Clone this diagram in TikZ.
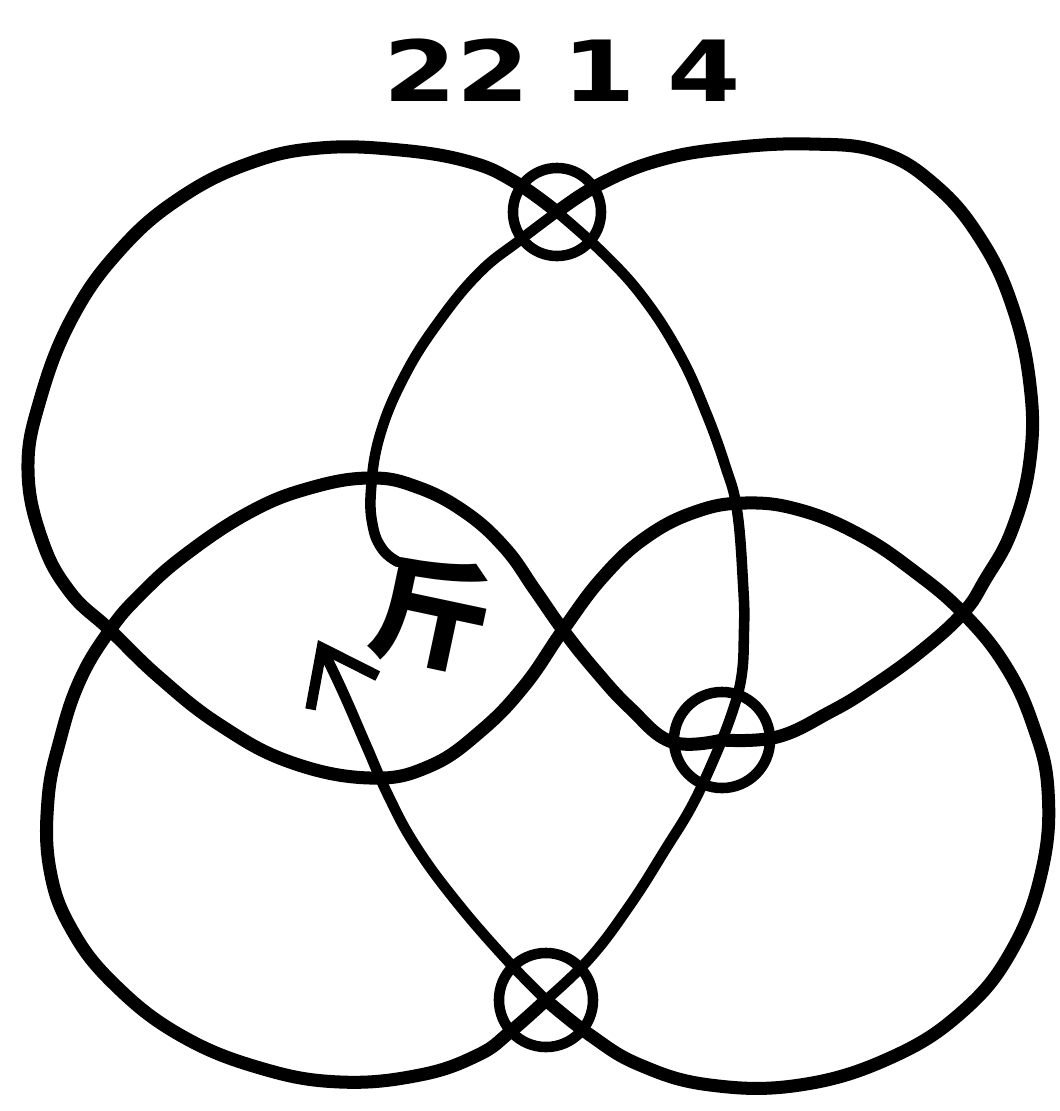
\documentclass[tikz,border=0pt]{standalone}
\usepackage{fontspec}
\newfontfamily\digitfont{DejaVu Sans}
\newfontfamily\cjk{Noto Sans CJK SC}
\usetikzlibrary{arrows.meta}

\begin{document}
\begin{tikzpicture}[x=0.01cm,y=-0.01cm,
  strand/.style={line width=3pt,line cap=round,line join=round},
  lobe/.style={line width=3.7pt,line cap=round,line join=round},
  xing/.style={circle,draw,line width=3pt,inner sep=0pt}]

%grid help
% \draw[gray, very thin] (0,0) grid[step=100] (1060,1111);

\useasboundingbox (0,0) rectangle (1060,1111);

%Number on top
\node[font=\digitfont\bfseries\fontsize{24}{24}\selectfont] (num) at (562,70) {\scalebox{1.25}[1]{22\hspace{0.3em}1\hspace{0.3em}4}};

%Crossing circles
\node[xing,minimum size=0.88cm] (top) at (557,212) {};
\node[xing,minimum size=0.96cm] (mid) at (722,740) {};
\node[xing,minimum size=0.94cm] (bot) at (546,1000) {};

%Character at the loose end
\node[font=\cjk\bfseries\fontsize{34}{34}\selectfont,rotate=-12] (kin) at (432,613) {斤};
\coordinate (end) at (398,562);

%Inner strand on the left
\draw[strand] plot[smooth,tension=0.7] coordinates {(end) (383,550) (373,527) (371,490) (380,435) (405,375) (440,320) (480,272) (520,240) (top.center)};

%Upper right lobe
\draw[lobe] plot[smooth,tension=0.7] coordinates {(top.center) (600,184) (660,160) (730,148) (810,144) (880,152) (935,185) (980,238) (1012,305) (1030,385) (1030,460) (1012,530) (985,580) (963,613) (920,652) (870,688) (830,712) (777,737) (mid.center)};

%Lower left lobe
\draw[lobe] plot[smooth,tension=0.7] coordinates {(mid.center) (672,742) (630,708) (595,670) (563,630) (535,590) (505,548) (465,512) (417,487) (370,478) (310,488) (250,512) (185,555) (140,595) (110,630) (80,680) (60,740) (48,800) (50,870) (72,930) (115,985) (180,1035) (260,1068) (340,1082) (420,1075) (478,1055) (510,1032) (bot.center)};

%Strand from bottom to middle circle
\draw[strand] plot[smooth,tension=0.7] coordinates {(bot.center) (590,958) (630,905) (665,850) (695,800) (mid.center)};

%Inner strand on the right
\draw[strand] plot[smooth,tension=0.7] coordinates {(mid.center) (740,685) (744,630) (743,583) (737,510) (725,465) (705,410) (680,355) (645,300) (605,255) (top.center)};

%Upper left lobe and lower right lobe
\draw[lobe] plot[smooth,tension=0.7] coordinates {(top.center) (515,182) (470,162) (400,150) (320,148) (250,163) (180,198) (120,250) (72,318) (40,400) (28,470) (42,540) (70,592) (110,630) (160,678) (220,725) (290,762) (370,778) (430,766) (482,730) (525,685) (563,630) (602,578) (645,538) (695,512) (745,503) (800,510) (860,535) (915,572) (963,613) (1005,665) (1033,725) (1048,790) (1042,870) (1012,950) (962,1012) (890,1058) (800,1085) (710,1085) (640,1065) (590,1035) (bot.center)};

%Arrow
\draw[strand,-{Straight Barb[length=5mm,width=7.5mm]}] plot[smooth,tension=0.7] coordinates {(bot.center) (505,958) (455,900) (415,845) (388,795) (366,745) (342,690) (318,640)};

\end{tikzpicture}
\end{document}
